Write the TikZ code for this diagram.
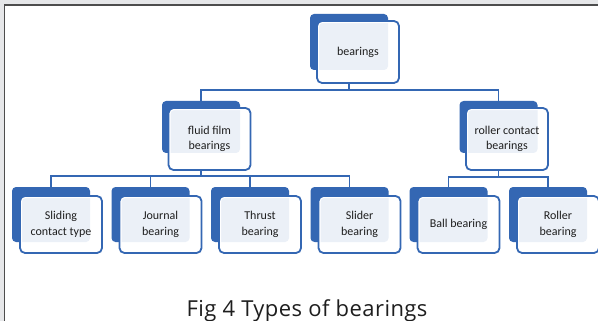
\documentclass[tikz,border=0pt]{standalone}
\usepackage{fontspec}
\setmainfont{Carlito}
\newfontfamily\capfont[LetterSpace=2]{Open Sans}
\definecolor{bblue}{HTML}{3467B3}
\definecolor{textgray}{HTML}{1E1E1E}
\definecolor{framegray}{HTML}{4D4D4D}
\definecolor{bggray}{HTML}{E6E7E9}
\begin{document}
\begin{tikzpicture}[x=1pt,y=-1pt,
  backbox/.style={draw=none, fill=bblue, rounded corners=4pt, minimum width=78pt, minimum height=55pt, inner sep=0pt},
  frontbox/.style={fill=white, fill opacity=0.9, text opacity=1, draw=bblue, line width=1.8pt,
    rounded corners=5pt, minimum width=82pt, minimum height=58pt, inner sep=0pt, align=center,
    font=\fontsize{12}{15.5}\selectfont, text=textgray,
    path picture={\draw[white, line width=4.2pt, rounded corners=5pt]
      (path picture bounding box.south west) rectangle (path picture bounding box.north east);}},
  conn/.style={draw=bblue, line width=1.8pt}]
\useasboundingbox (0,0) rectangle (598,321);
\fill[white] (0,0) rectangle (598,321);
\fill[bggray] (0,0) rectangle (598,4.5);
\fill[bggray] (0,0) rectangle (4,321);
\draw[framegray, line width=1.5pt] (4.5,321) -- (4.5,5) -- (598,5);

% level 1
\node[backbox, minimum height=56pt] (topB) at (349,42) {};
\node[frontbox, minimum height=62pt] (top) at (358,52) {bearings};
% level 2
\node[backbox, minimum height=52pt] (fluidB) at (201,127) {};
\node[frontbox, minimum height=62pt] (fluid) at (209.5,139) {fluid film\\bearings};
\node[backbox, minimum height=52pt] (rollerB) at (498.5,127) {};
\node[frontbox, minimum height=62pt] (roller) at (507,139) {roller contact\\bearings};
% level 3
\node[backbox] (slidingB) at (51,214.5) {};
\node[frontbox, minimum height=57pt] (sliding) at (61,224.5) {Sliding\\contact type};
\node[backbox] (journalB) at (150.5,214.5) {};
\node[frontbox, minimum height=57pt] (journal) at (160.5,224.5) {Journal\\bearing};
\node[backbox] (thrustB) at (250,214.5) {};
\node[frontbox, minimum height=57pt] (thrust) at (260,224.5) {Thrust\\bearing};
\node[backbox] (sliderB) at (349.5,214.5) {};
\node[frontbox, minimum height=57pt] (slider) at (359.5,224.5) {Slider\\bearing};
\node[backbox] (ballB) at (448.5,214.5) {};
\node[frontbox, minimum height=57pt] (ball) at (458.5,224.5) {Ball bearing};
\node[backbox] (rollerbB) at (548,214.5) {};
\node[frontbox, minimum height=57pt] (rollerb) at (558,224.5) {Roller\\bearing};

% connectors
\coordinate (p1) at (topB.center |- top.south);
\draw[conn] (p1) -- ++(0,6) coordinate (h1);
\draw[conn] (fluidB.north) |- (h1) -| (rollerB.north);

\coordinate (p2) at (fluidB.center |- fluid.south);
\draw[conn] (p2) -- ++(0,5) coordinate (h2);
\draw[conn] (slidingB.north) |- (h2) -| (sliderB.north);
\draw[conn] (journalB.north) -- (journalB.north |- h2);
\draw[conn] (thrustB.north) -- (thrustB.north |- h2);

\coordinate (p3) at (rollerB.center |- roller.south);
\draw[conn] (p3) -- ++(0,6) coordinate (h3);
\draw[conn] (ballB.north) |- (h3) -| (rollerbB.north);

\node[font=\capfont\fontsize{22}{25}\selectfont, text=textgray, anchor=base, inner sep=0pt] (cap) at (307,316) {Fig 4 Types of bearings};
\end{tikzpicture}
\end{document}
